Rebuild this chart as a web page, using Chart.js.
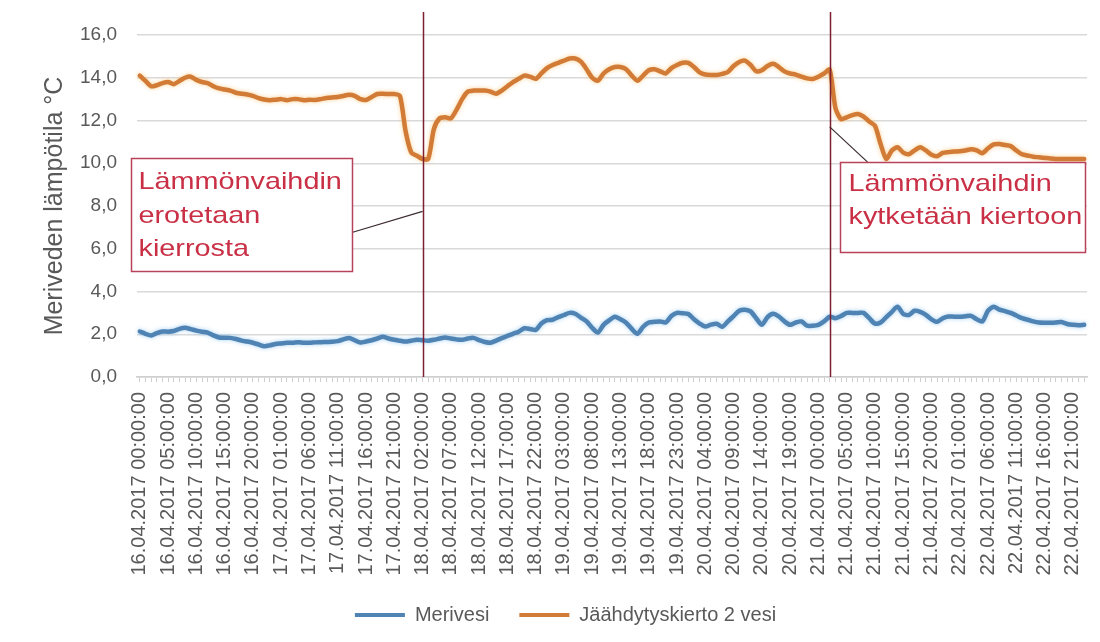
<!DOCTYPE html>
<html lang="fi">
<head>
<meta charset="utf-8">
<title>Meriveden lämpötila</title>
<script src="https://cdn.jsdelivr.net/npm/chart.js@4/dist/chart.umd.min.js"></script>
<style>
  html, body { margin: 0; padding: 0; background: #ffffff; }
  #wrap { width: 1100px; height: 642px; }
</style>
</head>
<body>
<div id="wrap"><canvas id="chart" width="1100" height="642"></canvas></div>
<script>
// Hourly measurement timestamps, 16.04.2017 00:00 – 22.04.2017 23:00
const firstDay = 16;
const monthText = '04';
const yearText = '2017';
const hourCount = 168;
const timeLabels = [];
for (let i = 0; i < hourCount; i++) {
  const day = firstDay + Math.floor(i / 24);
  const hour = String(i % 24).padStart(2, '0');
  timeLabels.push(day + '.' + monthText + '.' + yearText + ' ' + hour + ':00:00');
}
// every fifth timestamp is printed under the axis
const labelEvery = 5;

// Seawater temperature (°C)
const merivesi = [
  2.13, 2.02, 1.94, 2.05, 2.13, 2.12, 2.15, 2.25, 2.30, 2.24,
  2.17, 2.12, 2.08, 1.95, 1.85, 1.84, 1.83, 1.78, 1.70, 1.66,
  1.60, 1.52, 1.44, 1.48, 1.54, 1.57, 1.60, 1.60, 1.62, 1.60,
  1.60, 1.62, 1.63, 1.64, 1.65, 1.68, 1.76, 1.83, 1.72, 1.61,
  1.66, 1.72, 1.80, 1.88, 1.80, 1.74, 1.70, 1.66, 1.70, 1.74,
  1.72, 1.70, 1.74, 1.80, 1.85, 1.80, 1.76, 1.74, 1.80, 1.83,
  1.72, 1.64, 1.60, 1.70, 1.82, 1.92, 2.02, 2.12, 2.28, 2.25,
  2.20, 2.50, 2.66, 2.68, 2.80, 2.90, 3.00, 2.96, 2.78, 2.60,
  2.30, 2.08, 2.44, 2.65, 2.82, 2.70, 2.54, 2.25, 2.02, 2.35,
  2.55, 2.58, 2.60, 2.55, 2.85, 3.00, 2.98, 2.95, 2.70, 2.50,
  2.36, 2.45, 2.49, 2.35, 2.60, 2.85, 3.10, 3.15, 3.07, 2.75,
  2.44, 2.80, 2.96, 2.83, 2.60, 2.44, 2.55, 2.60, 2.40, 2.40,
  2.44, 2.60, 2.82, 2.75, 2.85, 3.00, 3.00, 3.00, 3.00, 2.75,
  2.50, 2.55, 2.80, 3.05, 3.29, 2.95, 2.90, 3.10, 3.05, 2.91,
  2.70, 2.58, 2.75, 2.83, 2.82, 2.82, 2.84, 2.86, 2.70, 2.60,
  3.10, 3.29, 3.15, 3.08, 3.00, 2.88, 2.75, 2.68, 2.60, 2.55,
  2.54, 2.54, 2.55, 2.57, 2.48, 2.44, 2.42, 2.44
];

// Cooling circuit 2 water temperature (°C)
const jaahdytyskierto2 = [
  14.10, 13.85, 13.60, 13.65, 13.75, 13.80, 13.70, 13.85, 14.00, 14.05,
  13.90, 13.80, 13.75, 13.60, 13.50, 13.45, 13.40, 13.30, 13.25, 13.22,
  13.15, 13.05, 12.98, 12.95, 12.97, 13.00, 12.95, 13.00, 13.00, 12.95,
  12.97, 12.96, 13.00, 13.05, 13.08, 13.10, 13.15, 13.20, 13.15, 13.00,
  12.96, 13.10, 13.24, 13.25, 13.24, 13.24, 13.15, 11.50, 10.50, 10.35,
  10.20, 10.20, 11.60, 12.10, 12.15, 12.10, 12.50, 13.00, 13.35, 13.40,
  13.40, 13.40, 13.35, 13.25, 13.40, 13.60, 13.80, 13.95, 14.10, 14.05,
  13.95, 14.20, 14.45, 14.60, 14.70, 14.80, 14.90, 14.90, 14.75, 14.40,
  14.00, 13.86, 14.20, 14.40, 14.50, 14.50, 14.40, 14.10, 13.86, 14.10,
  14.35, 14.40, 14.30, 14.20, 14.45, 14.60, 14.70, 14.70, 14.50, 14.25,
  14.15, 14.13, 14.13, 14.18, 14.27, 14.55, 14.74, 14.80, 14.60, 14.30,
  14.35, 14.55, 14.65, 14.50, 14.30, 14.20, 14.15, 14.05, 13.97, 13.94,
  14.05, 14.20, 14.38, 12.60, 12.06, 12.15, 12.25, 12.30, 12.18, 11.95,
  11.75, 10.90, 10.20, 10.60, 10.75, 10.50, 10.42, 10.60, 10.75, 10.60,
  10.40, 10.33, 10.48, 10.52, 10.55, 10.56, 10.60, 10.65, 10.60, 10.47,
  10.70, 10.88, 10.90, 10.85, 10.80, 10.60, 10.42, 10.36, 10.30, 10.28,
  10.25, 10.22, 10.20, 10.20, 10.20, 10.20, 10.20, 10.20
];

const seriesNames = ['Merivesi', 'Jäähdytyskierto 2 vesi'];
const axisTitle = 'Meriveden lämpötila °C';

// Value axis
const yMin = 0;
const yMax = 16;
const yStep = 2;

// Switching events: hour index of the marker and the note text
const eventHours = [50, 122];
const eventNotes = [
  ['Lämmönvaihdin', 'erotetaan', 'kierrosta'],
  ['Lämmönvaihdin', 'kytketään kiertoon']
];

const FONT = "'Liberation Sans', Arial, sans-serif";
const GREY_TEXT = '#595959';

// Note boxes, in axis coordinates (hour index, °C)
const noteLayout = [
  { x0: -1.6, x1: 37.5, yTop: 10.25, yBot: 4.95, textDx: 7, firstLine: 24, pitch: 33.5,
    lead: [[37.5, 6.76], [eventHours[0], 7.75]] },
  { x0: 123.8, x1: 167.1, yTop: 10.05, yBot: 5.87, textDx: 8, firstLine: 22, pitch: 33,
    lead: [[eventHours[1], 11.7], [128.7, 10.05]] }
];

const glowPlugin = {
  id: 'lineGlow',
  beforeDatasetDraw(chart, args) {
    const ctx = chart.ctx;
    ctx.save();
    ctx.shadowColor = args.index === 0 ? 'rgba(160,205,240,0.9)' : 'rgba(250,205,140,0.9)';
    ctx.shadowBlur = 4;
  },
  afterDatasetDraw(chart) {
    chart.ctx.restore();
  }
};

const notesPlugin = {
  id: 'eventNotes',
  afterDatasetsDraw(chart) {
    const { ctx, chartArea } = chart;
    const xs = chart.scales.x, ys = chart.scales.y;
    ctx.save();

    // event markers
    ctx.strokeStyle = '#7d1f30';
    ctx.lineWidth = 1.5;
    eventHours.forEach(h => {
      const px = Math.round(xs.getPixelForValue(h)) + 0.5;
      ctx.beginPath();
      ctx.moveTo(px, chartArea.top - 23);
      ctx.lineTo(px, chartArea.bottom);
      ctx.stroke();
    });

    noteLayout.forEach((n, k) => {
      const left = Math.round(xs.getPixelForValue(n.x0)) + 0.5;
      const right = Math.round(xs.getPixelForValue(n.x1)) + 0.5;
      const top = Math.round(ys.getPixelForValue(n.yTop)) + 0.5;
      const bottom = Math.round(ys.getPixelForValue(n.yBot)) + 0.5;

      // leader line
      ctx.strokeStyle = '#3b2b2e';
      ctx.lineWidth = 1.2;
      ctx.beginPath();
      ctx.moveTo(xs.getPixelForValue(n.lead[0][0]), ys.getPixelForValue(n.lead[0][1]));
      ctx.lineTo(xs.getPixelForValue(n.lead[1][0]), ys.getPixelForValue(n.lead[1][1]));
      ctx.stroke();

      // box
      ctx.fillStyle = '#ffffff';
      ctx.fillRect(left, top, right - left, bottom - top);
      ctx.strokeStyle = '#b8425a';
      ctx.lineWidth = 1.5;
      ctx.strokeRect(left, top, right - left, bottom - top);

      // text
      ctx.fillStyle = '#c92f45';
      ctx.font = '24px ' + FONT;
      ctx.textBaseline = 'middle';
      ctx.textAlign = 'left';
      eventNotes[k].forEach((line, j) => {
        ctx.save();
        ctx.translate(left + n.textDx, top + n.firstLine + j * n.pitch);
        ctx.scale(1.2, 1);
        ctx.fillText(line, 0, 0);
        ctx.restore();
      });
    });
    ctx.restore();
  }
};

const legendShift = {
  id: 'legendShift',
  afterLayout(chart) {
    if (chart.legend) {
      chart.legend.left += 22;
      chart.legend.right += 22;
    }
  }
};

new Chart(document.getElementById('chart'), {
  type: 'line',
  data: {
    labels: timeLabels,
    datasets: [
      {
        label: seriesNames[0],
        data: merivesi,
        borderColor: '#4f83b3',
        backgroundColor: '#4f83b3',
        borderWidth: 4.5,
        pointRadius: 0,
        tension: 0.25,
        borderJoinStyle: 'round',
        borderCapStyle: 'round'
      },
      {
        label: seriesNames[1],
        data: jaahdytyskierto2,
        borderColor: '#d27b37',
        backgroundColor: '#d27b37',
        borderWidth: 4.5,
        pointRadius: 0,
        tension: 0.25,
        borderJoinStyle: 'round',
        borderCapStyle: 'round'
      }
    ]
  },
  options: {
    responsive: false,
    animation: false,
    devicePixelRatio: 1,
    layout: { padding: { left: 0, right: 13, top: 35, bottom: 7 } },
    plugins: {
      tooltip: { enabled: false },
      legend: {
        position: 'bottom',
        labels: {
          boxWidth: 50,
          boxHeight: 4,
          padding: 30,
          color: GREY_TEXT,
          font: { family: FONT, size: 20 },
          generateLabels(chart) {
            return Chart.defaults.plugins.legend.labels.generateLabels(chart).map(item => {
              item.lineWidth = 0;
              item.fillStyle = item.strokeStyle;
              return item;
            });
          }
        }
      }
    },
    scales: {
      x: {
        type: 'category',
        offset: true,
        afterFit(scale) {
          scale.height = 198;
          scale.paddingLeft = 0;
          scale.paddingRight = 0;
        },
        grid: {
          drawOnChartArea: false,
          drawTicks: true,
          tickLength: 5,
          color: '#cfcfcf',
          lineWidth: 1
        },
        border: { display: true, color: '#cfcfcf', width: 1.5 },
        ticks: {
          autoSkip: false,
          maxRotation: 90,
          minRotation: 90,
          padding: 10,
          color: GREY_TEXT,
          font: { family: FONT, size: 20 },
          callback(value, index) {
            return index % labelEvery === 0 ? timeLabels[index] : '';
          }
        }
      },
      y: {
        min: yMin,
        max: yMax,
        afterFit(scale) { scale.width = 137; },
        grid: { color: '#d9d9d9', lineWidth: 1.5, drawTicks: false },
        border: { display: false },
        ticks: {
          stepSize: yStep,
          padding: 20,
          color: GREY_TEXT,
          font: { family: FONT, size: 19 },
          callback(v) { return v.toFixed(1).replace('.', ','); }
        },
        title: {
          display: true,
          text: axisTitle,
          color: GREY_TEXT,
          font: { family: FONT, size: 25 },
          padding: { top: 40, bottom: 0 }
        }
      }
    }
  },
  plugins: [glowPlugin, notesPlugin, legendShift]
});
</script>
</body>
</html>
